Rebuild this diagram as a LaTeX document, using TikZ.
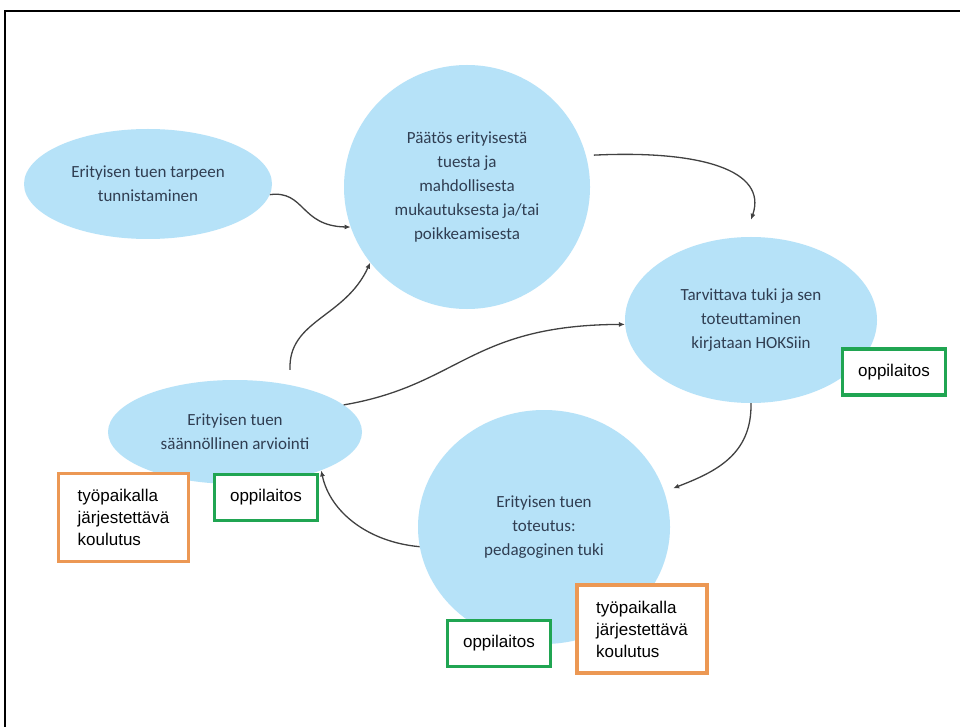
\documentclass[tikz,border=0pt]{standalone}
\usepackage{fontspec}
\setmainfont{Carlito}
\newfontfamily\boxfont{Liberation Sans}
\usetikzlibrary{shapes.geometric,arrows.meta}
\definecolor{bubble}{RGB}{182,226,248}
\definecolor{bubtext}{RGB}{48,62,82}
\definecolor{gbox}{RGB}{32,165,82}
\definecolor{obox}{RGB}{236,152,84}
\definecolor{arr}{RGB}{65,65,65}
\begin{document}
\begin{tikzpicture}[x=1pt,y=-1pt,
  bub/.style={ellipse, fill=bubble, inner sep=0pt, align=center, text=bubtext,
    font=\fontsize{17}{24}\selectfont},
  gtag/.style={draw=gbox, line width=3.5pt, fill=white, inner sep=0pt,
    minimum width=103pt, minimum height=46pt, text=black,
    font=\boxfont\fontsize{17}{22}\selectfont},
  otag/.style={draw=obox, line width=3.5pt, fill=white, inner sep=0pt,
    minimum width=130pt, minimum height=88pt, text=black, align=left,
    font=\boxfont\fontsize{17}{22}\selectfont},
  conn/.style={draw=arr, line width=1.3pt, -{Latex[length=6pt,width=5pt]}},
]
\useasboundingbox (0,0) rectangle (960,727);
\fill[white] (0,0) rectangle (960,727);
\draw[line width=2.2pt] (5,740) -- (5,11) -- (975,11);

\node[bub, minimum width=248pt, minimum height=110pt] (e1) at (148,184)
  {Erityisen tuen tarpeen\\tunnistaminen};
\node[bub, minimum width=246pt, minimum height=244pt] (c1) at (467,187)
  {Päätös erityisestä\\tuesta ja\\mahdollisesta\\mukautuksesta ja/tai\\poikkeamisesta};
\node[bub, minimum width=252pt, minimum height=166pt] (e3) at (751,320)
  {Tarvittava tuki ja sen\\toteuttaminen\\kirjataan HOKSiin};
\node[bub, minimum width=254pt, minimum height=104pt] (e4) at (235,432)
  {Erityisen tuen\\säännöllinen arviointi};
\node[bub, minimum width=252pt, minimum height=234pt] (c5) at (544,527)
  {Erityisen tuen\\toteutus:\\pedagoginen tuki};

\draw[conn] (e1.-5) .. controls (305,190) and (300,226) .. (c1.199);
\draw[conn] ([xshift=8pt]c1.15) .. controls (700,150) and (768,170) .. ([yshift=17pt]e3.north);
\draw[conn] ([xshift=55pt,yshift=10pt]e4.north) .. controls (288,320) and (345,318) .. (c1.218);
\draw[conn] (e4.14) .. controls (460,385) and (470,325) .. (e3.182);
\draw[conn] (e3.south) .. controls (752,455) and (715,472) .. ([xshift=10pt]c5.18);
\draw[conn] (c5.189) .. controls (368,542) and (330,512) .. (e4.-24);

\node[gtag] (g1) at (894,372) {oppilaitos};
\node[gtag] (g2) at (266,497.5) {oppilaitos};
\node[gtag] (g3) at (499,643.5) {oppilaitos};
\node[otag] (o1) at (123.5,517.5) {työpaikalla\\järjestettävä\\koulutus};
\node[otag] (o2) at (642,629) {työpaikalla\\järjestettävä\\koulutus};
\end{tikzpicture}
\end{document}
